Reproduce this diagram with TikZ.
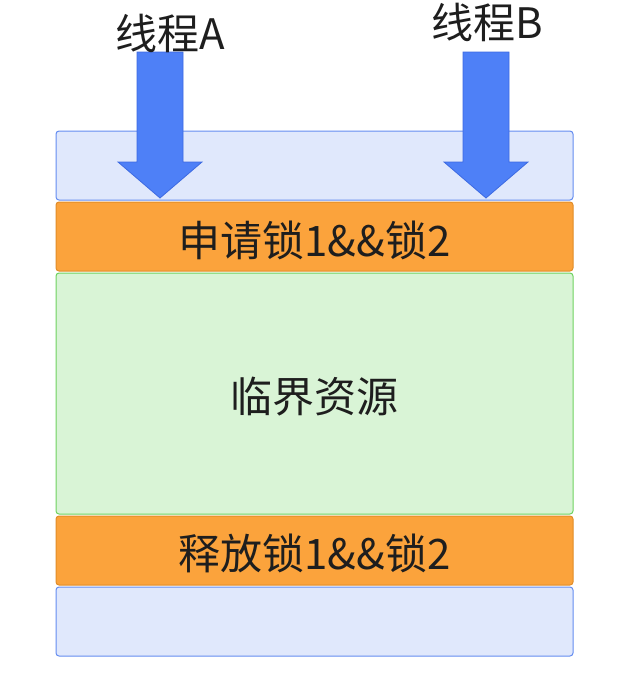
\documentclass[tikz,border=0pt]{standalone}
\usepackage{fontspec}
\setmainfont{Noto Sans CJK SC}
\begin{document}
\begin{tikzpicture}[x=1pt,y=-1pt,
 box/.style={draw, rounded corners=3pt, line width=1pt},
 bl/.style={box, fill={rgb,255:red,224;green,232;blue,252}, draw={rgb,255:red,100;green,140;blue,240}},
 og/.style={box, fill={rgb,255:red,251;green,163;blue,60}, draw={rgb,255:red,225;green,140;blue,40}},
 gr/.style={box, fill={rgb,255:red,217;green,244;blue,214}, draw={rgb,255:red,110;green,210;blue,95}},
 arr/.style={fill={rgb,255:red,78;green,128;blue,247}, draw={rgb,255:red,60;green,105;blue,225}, line width=0.8pt},
 lbl/.style={font=\fontsize{42pt}{46pt}\selectfont, text={rgb,255:red,30;green,30;blue,30}, inner sep=0pt}]
\useasboundingbox (0,0) rectangle (634,686);
\draw[bl] (56,131) rectangle (573,200);
\draw[og] (56,202) rectangle (573,271);
\draw[gr] (56,273) rectangle (573,514);
\draw[og] (56,516) rectangle (573,585);
\draw[bl] (56,587) rectangle (573,656);
\node[lbl] (r1) at (314.5,240) {申请锁1\&\&锁2};
\node[lbl] (cs) at (314.5,397) {临界资源};
\node[lbl] (r2) at (314.5,553) {释放锁1\&\&锁2};
\draw[arr] (137,52) -- (183,52) -- (183,162) -- (202,162) -- (160,198) -- (118,162) -- (137,162) -- cycle;
\draw[arr] (463,52) -- (509,52) -- (509,162) -- (528,162) -- (486,198) -- (444,162) -- (463,162) -- cycle;
\node[lbl] (ta) at (170,33) {线程A};
\node[lbl] (tb) at (487,22) {线程B};
\end{tikzpicture}
\end{document}
